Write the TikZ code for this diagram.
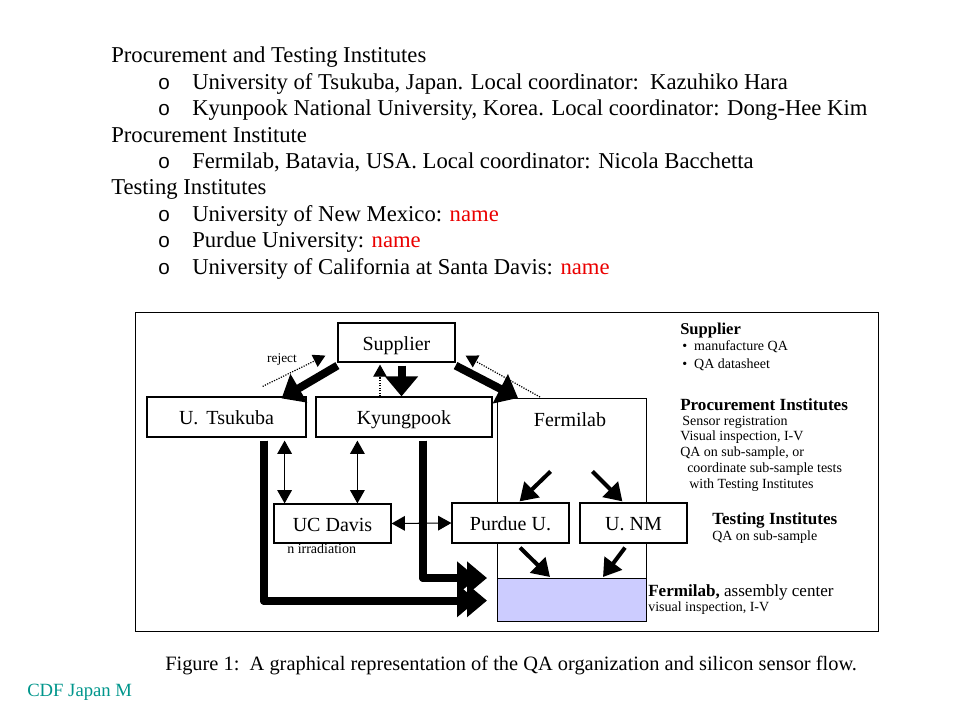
\documentclass[tikz,border=0pt]{standalone}
\usepackage{fontspec}
\setmainfont{Liberation Serif}
\newfontfamily\bulletfont{Liberation Sans}
\usetikzlibrary{arrows.meta,calc}
\definecolor{fillblue}{RGB}{204,204,255}
\definecolor{cdfteal}{RGB}{0,150,140}
\definecolor{namered}{RGB}{235,0,0}
\begin{document}
\begin{tikzpicture}[x=0.75pt,y=-0.75pt,
  bw/.style={minimum width=#1*0.75pt},
  bh/.style={minimum height=#1*0.75pt},
  box/.style={draw, line width=0.9pt, fill=white, inner sep=0pt, text height=14pt, text depth=2.5pt, font=\fontsize{15}{18}\selectfont},
  plainbox/.style={draw, line width=0.9pt, inner sep=0pt},
  listtxt/.style={anchor=base west, inner sep=0pt, font=\fontsize{17}{20}\selectfont},
  bul/.style={anchor=base west, inner sep=0pt, font=\bulletfont\fontsize{15.5}{18}\selectfont},
  small/.style={anchor=west, inner sep=0pt, font=\fontsize{10.5}{12}\selectfont},
  head/.style={anchor=west, inner sep=0pt, font=\bfseries\fontsize{12.8}{15}\selectfont},
  thickarrow/.style={line width=6pt, line join=round, -{Triangle[length=15pt,width=24pt]}},
  medarrow/.style={line width=3pt, -{Triangle[length=13pt,width=16pt]}},
  thinarrow/.style={line width=0.8pt, {Triangle[length=10pt,width=11pt]}-{Triangle[length=10pt,width=11pt]}},
  dotarrow/.style={line width=0.9pt, densely dotted, -{Triangle[length=9pt,width=10pt]}}
]
\useasboundingbox (0,0) rectangle (960,720);
\fill[white] (0,0) rectangle (960,720);

% ---------- top list ----------
\node[listtxt] (h1) at (111,63) {Procurement and Testing Institutes};
\node[bul] (b1) at (158,89.4) {o};
\node[listtxt] (t1) at (192,89.4) {University of Tsukuba, Japan. Local coordinator:\ \ Kazuhiko Hara};
\node[bul] (b2) at (158,115.8) {o};
\node[listtxt] (t2) at (192,115.8) {Kyunpook National University, Korea. Local coordinator: Dong-Hee Kim};
\node[listtxt] (h2) at (111,142.2) {Procurement Institute};
\node[bul] (b3) at (158,168.6) {o};
\node[listtxt] (t3) at (192,168.6) {Fermilab, Batavia, USA. Local coordinator: Nicola Bacchetta};
\node[listtxt] (h3) at (111,195) {Testing Institutes};
\node[bul] (b4) at (158,221.4) {o};
\node[listtxt] (t4) at (192,221.4) {University of New Mexico: \textcolor{namered}{name}};
\node[bul] (b5) at (158,247.8) {o};
\node[listtxt] (t5) at (192,247.8) {Purdue University: \textcolor{namered}{name}};
\node[bul] (b6) at (158,274.2) {o};
\node[listtxt] (t6) at (192,274.2) {University of California at Santa Davis: \textcolor{namered}{name}};

% ---------- diagram frame ----------
\node[plainbox, bw=743, bh=319, anchor=north west] (frame) at (135,312) {};

% Fermilab big box and assembly area
\node[plainbox, bw=149, bh=223, anchor=north west] (fer) at (497,398) {};
\node[inner sep=0pt, font=\fontsize{15}{18}\selectfont] (ferl) at (570,420) {Fermilab};
\node[plainbox, fill=fillblue, bw=149, bh=43, anchor=north west] (asm) at (497,578) {};

% boxes
\node[box, bw=117, bh=39] (sup) at (396.5,342.5) {Supplier};
\node[box, bw=159, bh=40] (tsu) at (226.5,417) {U.\hspace{6pt}Tsukuba};
\node[box, bw=176, bh=40] (kyu) at (404,417) {Kyungpook};
\node[box, bw=117, bh=39] (ucd) at (332.5,523.5) {UC Davis};
\node[box, bw=117, bh=40] (pur) at (510.5,523) {Purdue U.};
\node[box, bw=107, bh=40] (unm) at (633.5,523) {U. NM};

% labels
\node[inner sep=0pt, font=\fontsize{10}{12}\selectfont] (rej) at (282,360) {reject};
\node[small] (irr) at (287,549) {n irradiation};

% supplier arrows
\draw[thickarrow] ($(sup.south west)+(0,3)$) -- ($(tsu.north east)+(-25,2)$);
\coordinate (sk) at ($(sup.south)+(5,3)$);
\draw[thickarrow] (sk) -- (sk |- kyu.north);
\draw[thickarrow] ($(sup.south east)+(0,3)$) -- ($(fer.north west)+(21,0)$);
\draw[dotarrow] ($(tsu.north east)+(-44,-10)$) -- ($(sup.south west)+(-12,-7)$);
\coordinate (kd) at ($(kyu.north)+(-24,0)$);
\draw[dotarrow] (kd) -- ($(kd |- sup.south)+(0,2)$);
\draw[dotarrow] ($(fer.north west)+(43,-1)$) -- ($(sup.south east)+(10,-7)$);

% flows to assembly center
\coordinate (ts) at ($(tsu.south)+(37.5,3)$);
\draw[thickarrow] (ts) |- ($(asm.west)+(-20,0.5)$);
\draw[thickarrow] (ts) |- ($(asm.west)+(-10,0.5)$);
\coordinate (ks) at ($(kyu.south)+(19,3)$);
\draw[thickarrow] (ks) |- ($(asm.north west)+(-20,0)$);
\draw[thickarrow] (ks) |- ($(asm.north west)+(-10,0)$);

% thin two-way arrows
\coordinate (tu) at ($(tsu.south east)+(-22,3)$);
\draw[thinarrow] (tu) -- (tu |- ucd.north);
\coordinate (ku) at ($(kyu.south west)+(42,3)$);
\draw[thinarrow] (ku) -- (ku |- ucd.north);
\draw[thinarrow] (ucd.east) -- (pur.west);

% inside Fermilab
\draw[medarrow] ($(pur.north east)+(-19,-31)$) -- ($(pur.north east)+(-50,-1)$);
\draw[medarrow] ($(unm.north west)+(13,-31)$) -- ($(unm.north west)+(43,-1)$);
\draw[medarrow] ($(pur.south)+(9.5,4)$) -- ($(asm.north west)+(53,-1)$);
\draw[medarrow] ($(unm.south)+(-8.5,4)$) -- ($(asm.north west)+(106,-1)$);

% legend on right
\node[head, font=\bfseries\fontsize{12.4}{15}\selectfont] (lsup) at (680,331) {Supplier};
\node[small] (ls1) at (682,347) {\textbullet\ \ manufacture QA};
\node[small] (ls2) at (682,365) {\textbullet\ \ QA datasheet};
\node[head] (lproc) at (680,405) {Procurement Institutes};
\node[small] (lp1) at (682,422) {Sensor registration};
\node[small] (lp2) at (680,437.5) {Visual inspection, I-V};
\node[small] (lp3) at (680,453) {QA on sub-sample, or};
\node[small] (lp4) at (687,469) {coordinate sub-sample tests};
\node[small] (lp5) at (689,485) {with Testing Institutes};
\node[head] (ltest) at (712,520) {Testing Institutes};
\node[small] (lt1) at (712,537) {QA on sub-sample};
\node[anchor=west, inner sep=0pt, font=\fontsize{12.8}{15}\selectfont] (lfa) at (648,592) {\textbf{Fermilab,} assembly center};
\node[small] (lf1) at (648,608) {visual inspection, I-V};

% caption and footer
\node[anchor=base west, inner sep=0pt, font=\fontsize{15.3}{18}\selectfont] (cap) at (165,670) {Figure 1:\ \ A graphical representation of the QA organization and silicon sensor flow.};
\node[anchor=base west, inner sep=0pt, text=cdfteal, font=\fontsize{14}{16}\selectfont] (cdf) at (27,696) {CDF Japan M};
\end{tikzpicture}
\end{document}
